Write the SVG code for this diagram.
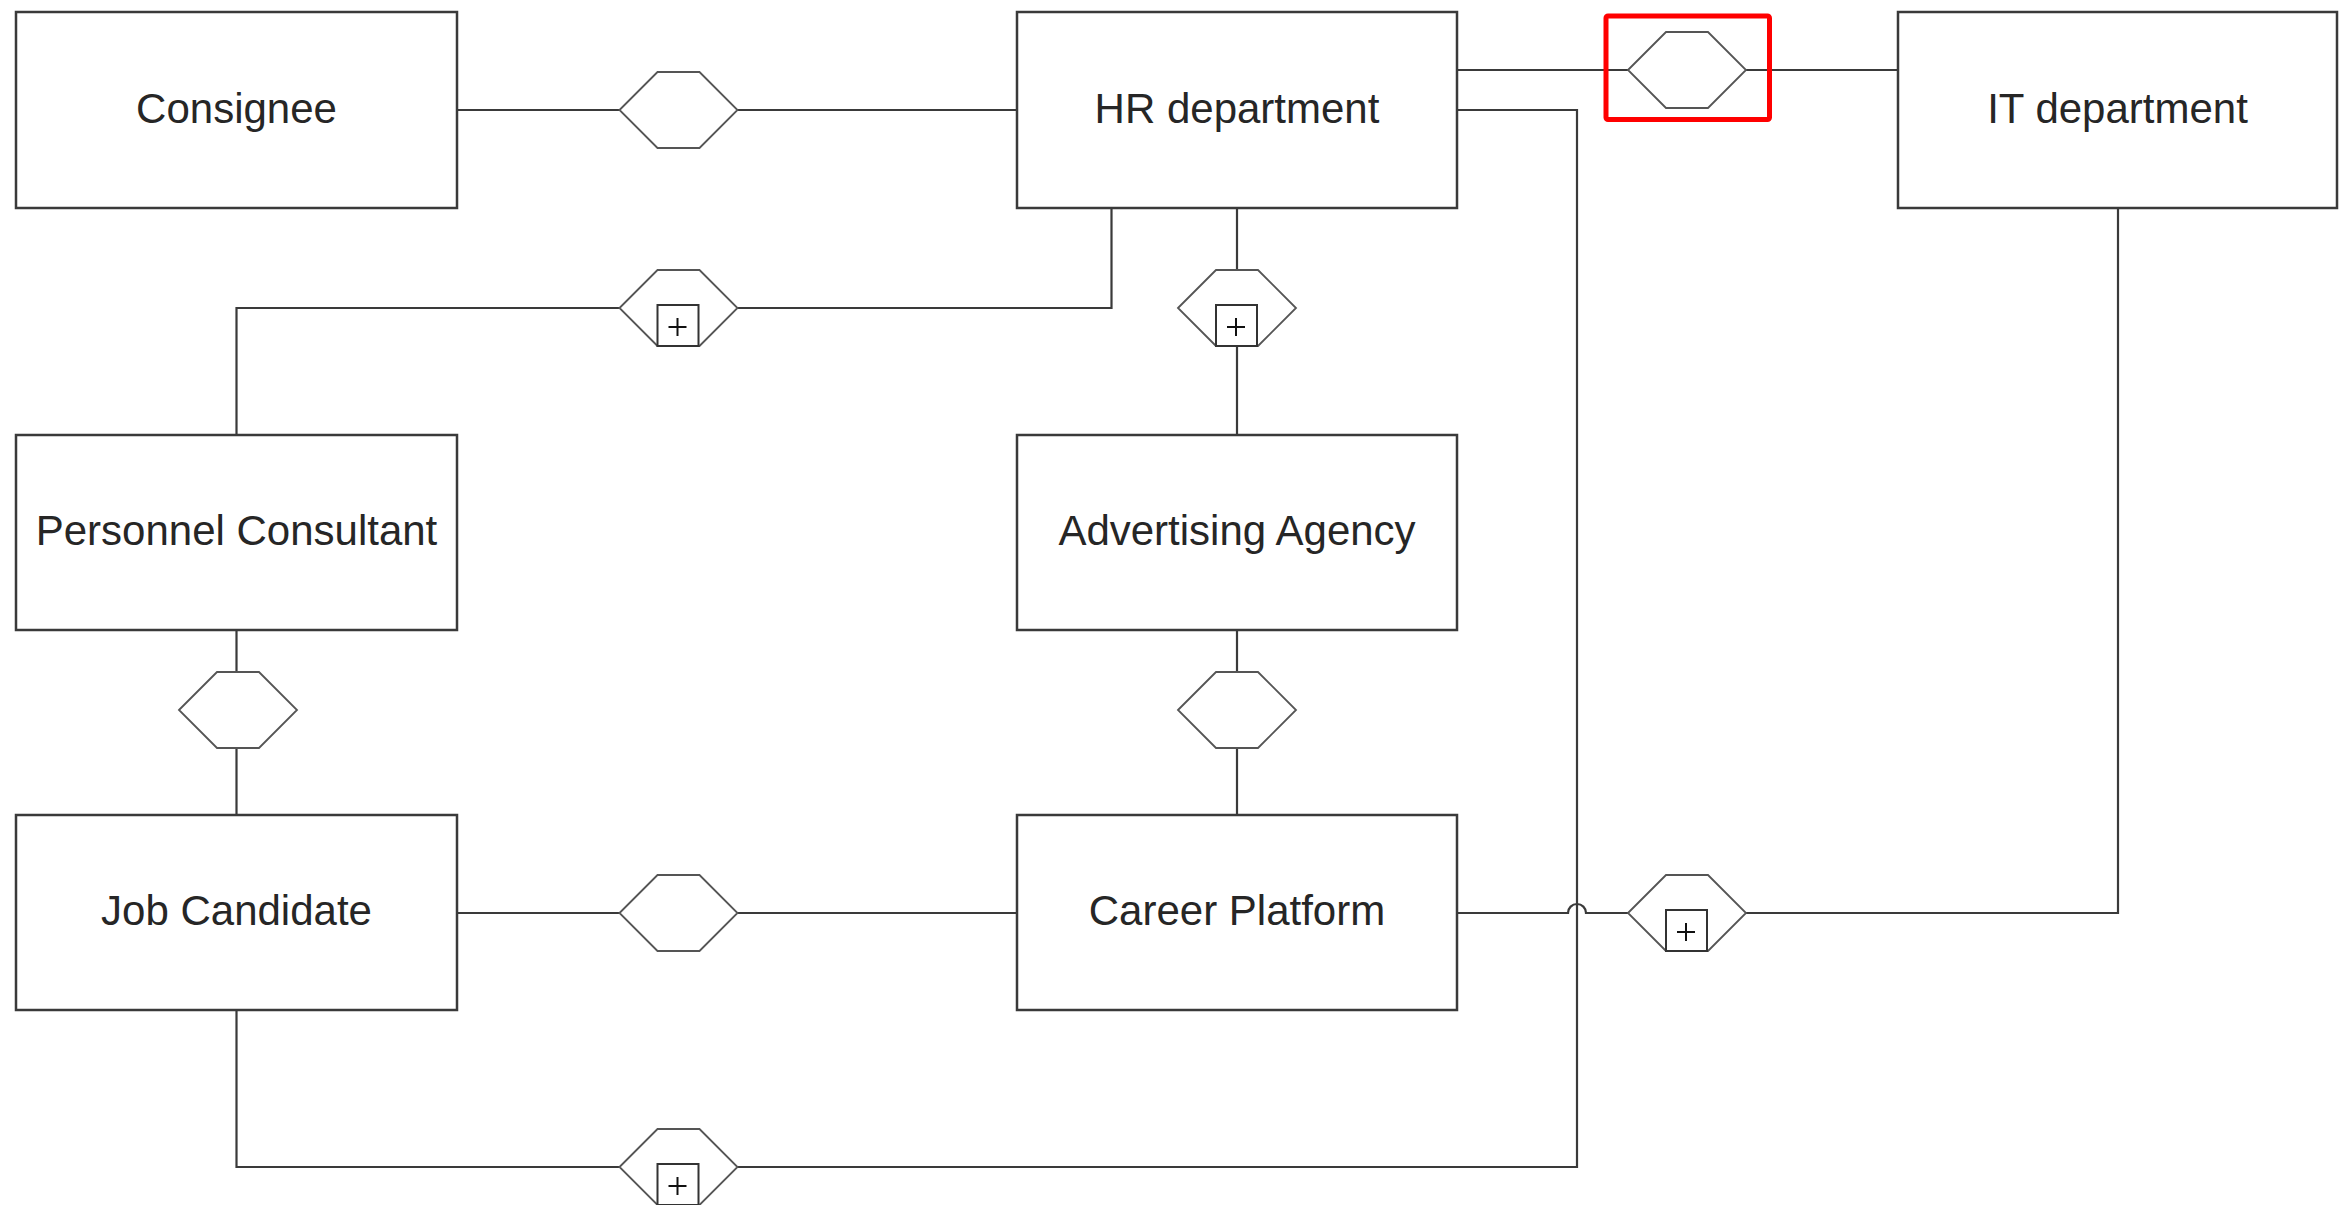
<svg xmlns="http://www.w3.org/2000/svg" width="2339" height="1205" viewBox="0 0 2339 1205">
  <style>
    .box { fill: #ffffff; stroke: #3a3a3a; stroke-width: 2.5; }
    .label { font-family: "Liberation Sans", Arial, sans-serif; font-size: 42px; fill: #262626; text-anchor: middle; }
    .wire { fill: none; stroke: #3a3a3a; stroke-width: 2.2; }
    .hex { fill: #ffffff; stroke: #555555; stroke-width: 1.8; }
    .sub { fill: #ffffff; stroke: #333333; stroke-width: 2; }
    .plus { stroke: #111111; stroke-width: 2; }
    .mark { fill: none; stroke: #ff0000; stroke-width: 5; }
  </style>
  <defs>
    <polygon id="hexShape" class="hex" points="-59,0 -21,-38 21,-38 59,0 21,38 -21,38"/>
    <g id="hexPlus">
      <use href="#hexShape"/>
      <rect class="sub" x="-21" y="-3" width="41" height="41"/>
      <line class="plus" x1="-1" y1="10" x2="-1" y2="28"/>
      <line class="plus" x1="-10" y1="19" x2="8" y2="19"/>
    </g>
  </defs>

  <rect width="2339" height="1205" fill="#ffffff"/>

  <!-- connectors -->
  <g id="connectors">
    <!-- Consignee to HR department -->
    <path class="wire" d="M457,110 H1017"/>
    <!-- HR department to IT department -->
    <path class="wire" d="M1457,70 H1898"/>
    <!-- Personnel Consultant to HR department -->
    <path class="wire" d="M236.5,435 V308 H1111.5 V208"/>
    <!-- HR department to Advertising Agency -->
    <path class="wire" d="M1237,208 V435"/>
    <!-- Personnel Consultant to Job Candidate -->
    <path class="wire" d="M236.5,630 V815"/>
    <!-- Advertising Agency to Career Platform -->
    <path class="wire" d="M1237,630 V815"/>
    <!-- Job Candidate to Career Platform -->
    <path class="wire" d="M457,913 H1017"/>
    <!-- Job Candidate to HR department -->
    <path class="wire" d="M236.5,1010 V1167 H1577 V110 H1457"/>
    <!-- Career Platform to IT department, hopping over the vertical run -->
    <path class="wire" d="M1457,913 H1568 A9,9 0 0 1 1586,913 H2118 V208"/>
  </g>

  <!-- relationship hexagons -->
  <g id="rel-consignee-hr"><use href="#hexShape" x="678.5" y="110"/></g>
  <g id="rel-hr-it"><use href="#hexShape" x="1687" y="70"/></g>
  <g id="rel-consultant-hr"><use href="#hexPlus" x="678.5" y="308"/></g>
  <g id="rel-hr-agency"><use href="#hexPlus" x="1237" y="308"/></g>
  <g id="rel-consultant-candidate"><use href="#hexShape" x="238" y="710"/></g>
  <g id="rel-agency-platform"><use href="#hexShape" x="1237" y="710"/></g>
  <g id="rel-candidate-platform"><use href="#hexShape" x="678.5" y="913"/></g>
  <g id="rel-platform-it"><use href="#hexPlus" x="1687" y="913"/></g>
  <g id="rel-candidate-hr"><use href="#hexPlus" x="678.5" y="1167"/></g>

  <!-- highlight -->
  <rect id="highlight" class="mark" x="1606" y="16" width="163.5" height="103.5" rx="2"/>

  <!-- entities -->
  <g id="consignee">
    <rect class="box" x="16" y="12" width="441" height="196"/>
    <text class="label" x="236.5" y="122.5">Consignee</text>
  </g>
  <g id="hr-department">
    <rect class="box" x="1017" y="12" width="440" height="196"/>
    <text class="label" x="1237" y="122.5">HR department</text>
  </g>
  <g id="it-department">
    <rect class="box" x="1898" y="12" width="439" height="196"/>
    <text class="label" x="2117.5" y="122.5">IT department</text>
  </g>
  <g id="personnel-consultant">
    <rect class="box" x="16" y="435" width="441" height="195"/>
    <text class="label" x="236.5" y="545">Personnel Consultant</text>
  </g>
  <g id="advertising-agency">
    <rect class="box" x="1017" y="435" width="440" height="195"/>
    <text class="label" x="1237" y="545">Advertising Agency</text>
  </g>
  <g id="job-candidate">
    <rect class="box" x="16" y="815" width="441" height="195"/>
    <text class="label" x="236.5" y="925">Job Candidate</text>
  </g>
  <g id="career-platform">
    <rect class="box" x="1017" y="815" width="440" height="195"/>
    <text class="label" x="1237" y="925">Career Platform</text>
  </g>
</svg>
